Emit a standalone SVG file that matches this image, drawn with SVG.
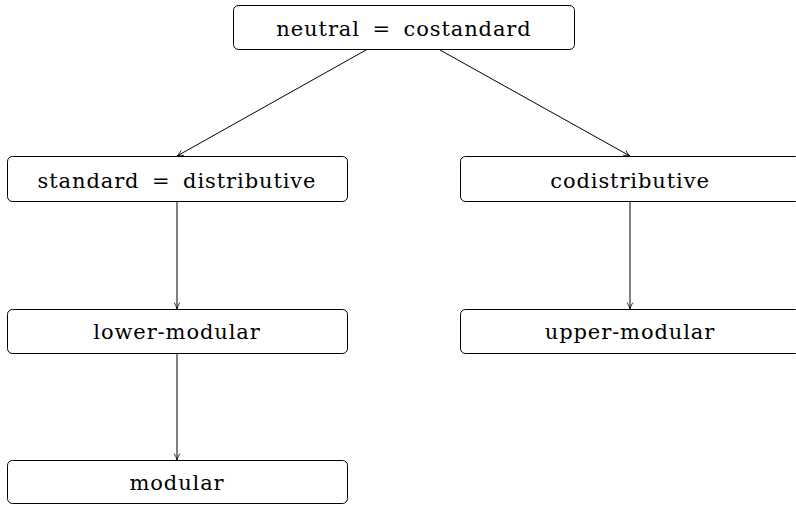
<svg xmlns="http://www.w3.org/2000/svg" width="796" height="505" viewBox="0 0 796 505">
<defs>
<style>
.box{fill:#fff;stroke:#000;stroke-width:1}
.lbl{font-family:'DejaVu Serif',serif;font-size:21px;letter-spacing:0.9px;fill:#000;text-anchor:middle}
.edge{stroke:#000;stroke-width:1;fill:none;marker-end:url(#arr)}
</style>
<marker id="arr" viewBox="0 0 10 10" refX="9" refY="5" markerWidth="8" markerHeight="8" markerUnits="userSpaceOnUse" orient="auto">
<path d="M1,1.5 Q5,4 9,5 Q5,6 1,8.5" fill="none" stroke="#000" stroke-width="1"/>
</marker>
</defs>
<rect width="796" height="505" fill="#fff"/>
<g id="edges">
<line class="edge" x1="366" y1="50" x2="177" y2="156"/>
<line class="edge" x1="440" y1="50" x2="630" y2="156"/>
<line class="edge" x1="177" y1="202" x2="177" y2="309"/>
<line class="edge" x1="177" y1="353" x2="177" y2="460"/>
<line class="edge" x1="630" y1="202" x2="630" y2="309"/>
</g>
<g id="n-neutral">
<rect class="box" x="233.5" y="5.5" width="341" height="44" rx="5"/>
<text class="lbl" x="404" y="36">neutral <tspan dx="5">=</tspan><tspan dx="5"> costandard</tspan></text>
</g>
<g id="n-standard">
<rect class="box" x="7.5" y="156.5" width="340" height="45" rx="5"/>
<text class="lbl" x="177" y="188">standard <tspan dx="5">=</tspan><tspan dx="5"> distributive</tspan></text>
</g>
<g id="n-codistributive">
<rect class="box" x="460.5" y="156.5" width="340" height="45" rx="5"/>
<text class="lbl" x="630" y="188">codistributive</text>
</g>
<g id="n-lower">
<rect class="box" x="7.5" y="309.5" width="340" height="44" rx="5"/>
<text class="lbl" x="177" y="339">lower-modular</text>
</g>
<g id="n-upper">
<rect class="box" x="460.5" y="309.5" width="340" height="44" rx="5"/>
<text class="lbl" x="630" y="339">upper-modular</text>
</g>
<g id="n-modular">
<rect class="box" x="7.5" y="460.5" width="340" height="43" rx="5"/>
<text class="lbl" x="177" y="490">modular</text>
</g>
</svg>
